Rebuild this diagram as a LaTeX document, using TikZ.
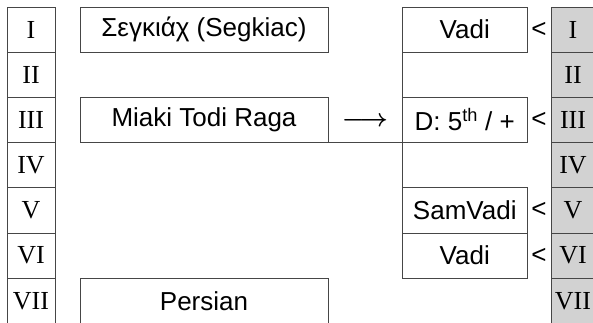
\documentclass[tikz,border=0pt]{standalone}
\usepackage{fontspec}
\setmainfont{Liberation Sans}
\newfontfamily\numfont{Liberation Serif}
\definecolor{linec}{RGB}{70,70,70}
\definecolor{shadec}{RGB}{210,210,210}
\begin{document}
\begin{tikzpicture}[x=1pt,y=-1pt,
  cell/.style={draw=linec, line width=0.9pt, minimum width=48pt, minimum height=45.2pt,
    inner sep=0pt, outer sep=0pt, anchor=north west, font=\numfont\fontsize{26}{26}\selectfont},
  shadecell/.style={cell, fill=shadec, minimum width=43pt},
  mbox/.style={draw=linec, line width=0.9pt, minimum width=248pt, minimum height=45.2pt,
    inner sep=0pt, outer sep=0pt, anchor=north west, font=\fontsize{26}{26}\selectfont},
  rbox/.style={mbox, minimum width=124.5pt},
  ltsign/.style={font=\fontsize{26}{26}\selectfont, inner sep=0pt},
  frame/.style={draw=linec, line width=0.9pt}]
\useasboundingbox (0,0) rectangle (593,323);
\clip (0,0) rectangle (593,323);
\fill[white] (0,0) rectangle (593,323);
% left numeral column
\foreach \i/\t in {1/I,2/II,3/III,4/IV,5/V,6/VI,7/VII}
  \node[cell] (L\i) at (7,{7+45.2*(\i-1)}) {\t};
% right shaded numeral column
\foreach \i/\t in {1/I,2/II,3/III,4/IV,5/V,6/VI,7/VII}
  \node[shadecell] (R\i) at (551.5,{7+45.2*(\i-1)}) {\t};
% middle boxes
\node[mbox] (greek) at (80,7) {Σεγκιάχ (Segkiac)};
\node[mbox] (miaki) at (80,97.4) {Miaki Todi Raga};
\node[mbox] (persian) at (80,278.2) {Persian};
% right boxes
\node[rbox] (vadiA) at (402.5,7) {Vadi};
\node[rbox] (dom) at (402.5,97.4) {D: 5\textsuperscript{th} / +};
\node[rbox] (samvadi) at (402.5,187.8) {SamVadi};
\node[rbox] (vadiB) at (402.5,233) {Vadi};
% frame lines
\draw[frame] (vadiA.south west) -- (dom.north west);
\draw[frame] (dom.south west) -- (samvadi.north west);
\draw[frame] (miaki.south east) -- (dom.south west);
% arrow glyph
\node[inner sep=0pt, font=\fontsize{25}{25}\selectfont\boldmath] (arrow) at (365,122) {$\longrightarrow$};
% less-than signs
\node[ltsign] (lt1) at (539,29.6) {<};
\node[ltsign] (lt3) at (539,120) {<};
\node[ltsign] (lt5) at (539,210.4) {<};
\node[ltsign] (lt6) at (539,255.6) {<};
\end{tikzpicture}
\end{document}
